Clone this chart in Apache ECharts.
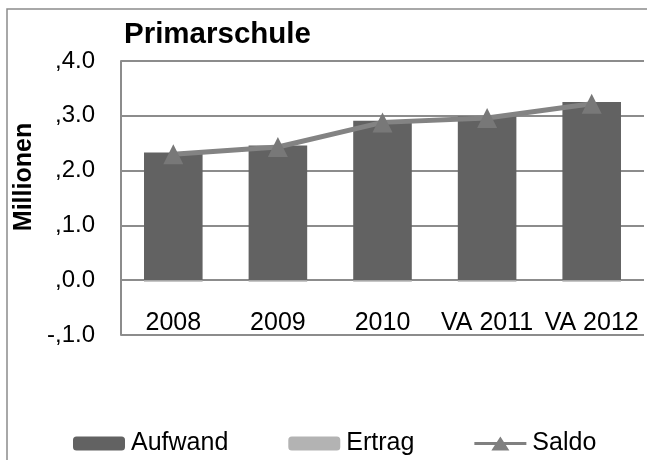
<!DOCTYPE html>
<html>
<head>
<meta charset="utf-8">
<script src="https://cdn.jsdelivr.net/npm/echarts@6/dist/echarts.min.js"></script>
<style>html,body{margin:0;padding:0;background:#fff}#c{width:647px;height:460px}</style>
</head>
<body>
<div id="c"></div>
<script>
var categories = ['2008', '2009', '2010', 'VA 2011', 'VA 2012'];
var aufwand = [2.33, 2.46, 2.91, 2.99, 3.25];
var ertrag = [-0.03, -0.03, -0.03, -0.03, -0.03];
var saldo = [2.30, 2.43, 2.88, 2.96, 3.22];
var yTickValues = [-1, 0, 1, 2, 3, 4];
var yTickLabels = ['-,1.0', ',0.0', ',1.0', ',2.0', ',3.0', ',4.0'];

var FONT = '"Liberation Sans", Arial, sans-serif';
var chart = echarts.init(document.getElementById('c'), null, {renderer: 'canvas'});
chart.setOption({
  animation: false,
  backgroundColor: '#ffffff',
  title: {
    text: 'Primarschule',
    left: 119, top: 15,
    textStyle: {fontFamily: FONT, fontSize: 29.5, fontWeight: 'bold', color: '#000'}
  },
  graphic: [
    {type: 'rect', shape: {x: 7, y: 9, width: 720, height: 520},
     style: {fill: 'none', stroke: '#8c8c8c', lineWidth: 1.5}, silent: true},
    {type: 'text', x: 24, y: 177, rotation: Math.PI / 2,
     style: {text: 'Millionen', font: 'bold 25px ' + FONT, fill: '#000',
             textAlign: 'center', textVerticalAlign: 'middle'}}
  ],
  legend: {
    left: 68, top: 426,
    itemWidth: 52, itemHeight: 14, itemGap: 60,
    textStyle: {fontFamily: FONT, fontSize: 25, color: '#000', padding: [0, 0, 0, 1]},
    data: ['Aufwand', 'Ertrag',
           {name: 'Saldo',
            icon: 'path://M0,5.5L52,5.5L52,8.5L0,8.5Z M17,14L26,0L35,14Z',
            itemStyle: {color: '#808080'}}]
  },
  grid: {left: 121, right: 3, top: 61, bottom: 125, containLabel: false},
  xAxis: {
    type: 'category',
    data: categories,
    axisLine: {show: false},
    axisTick: {show: false},
    axisLabel: {margin: -24, fontFamily: FONT, fontSize: 25, color: '#000', interval: 0}
  },
  yAxis: {
    type: 'value',
    min: -1, max: 4, interval: 1,
    axisLine: {show: true, lineStyle: {color: '#8c8c8c', width: 2}},
    axisTick: {show: false},
    splitLine: {show: true, lineStyle: {color: '#8c8c8c', width: 2}},
    axisLabel: {
      margin: 26, fontFamily: FONT, fontSize: 24, color: '#000',
      formatter: function (v) {
        var i = yTickValues.indexOf(Math.round(v));
        return i >= 0 ? yTickLabels[i] : '';
      }
    }
  },
  series: [
    {name: 'Aufwand', type: 'bar', stack: 'a', data: aufwand, barWidth: '56%',
     itemStyle: {color: '#626262'}},
    {name: 'Ertrag', type: 'bar', stack: 'a', data: ertrag, barWidth: '56%',
     itemStyle: {color: '#b3b3b3'}},
    {name: 'Saldo', type: 'line', data: saldo, symbol: 'triangle', symbolSize: [20, 20],
     lineStyle: {color: '#838383', width: 5}, itemStyle: {color: '#787878'}, z: 5}
  ]
});
</script>
</body>
</html>
